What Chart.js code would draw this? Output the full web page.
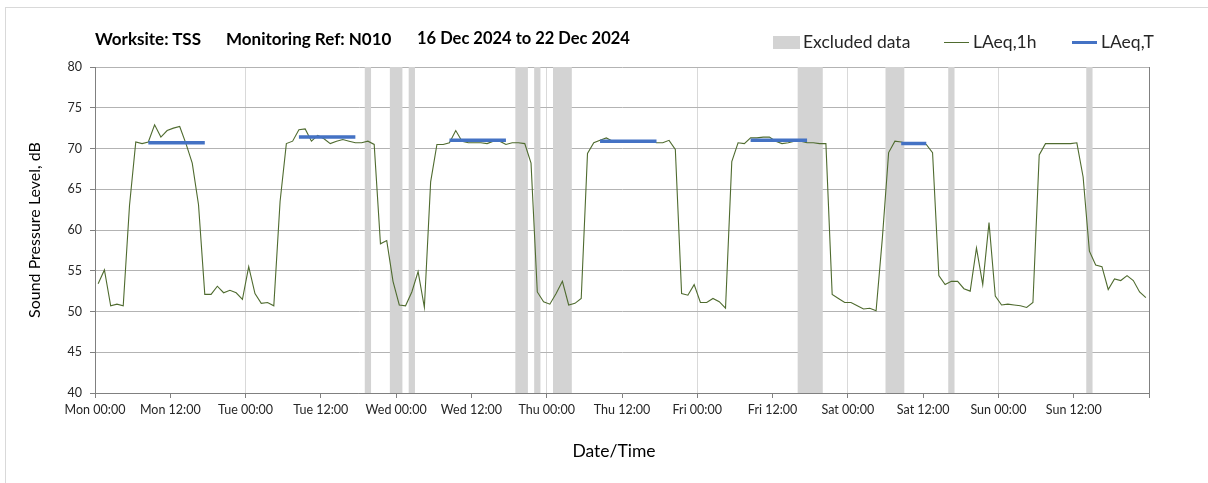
<!DOCTYPE html>
<html>
<head>
<meta charset="utf-8">
<script src="https://cdn.jsdelivr.net/npm/chart.js@4"></script>
<style>
  html, body { margin: 0; padding: 0; background: #ffffff; }
  #wrap { position: relative; width: 1208px; height: 483px; overflow: hidden; font-family: Lato, "Open Sans", sans-serif; }
  #frame { position: absolute; left: 5px; top: 7px; width: 1300px; height: 600px; border: 1px solid #d9d9d9; box-sizing: border-box; }
  #c { position: absolute; left: 0; top: 0; }
  .txt { position: absolute; white-space: nowrap; color: #000; }
  .tt { top: 28px; font-size: 17px; font-weight: bold; }
  #legend { position: absolute; left: 773px; top: 32px; height: 20px; font-size: 17.5px; color: #262626; }
  .lg { position: absolute; top: 0; line-height: 20px; white-space: nowrap; }
  .sw { position: absolute; }
  #xtitle { left: 514px; width: 200px; text-align: center; top: 440px; font-size: 17.5px; }
</style>
</head>
<body>
<div id="wrap">
  <div id="frame"></div>
  <canvas id="c" width="1208" height="483"></canvas>
  <div class="txt tt" style="left:95px;">Worksite: TSS</div>
  <div class="txt tt" style="left:226px;">Monitoring Ref: N010</div>
  <div class="txt tt" style="left:417px; font-size:16.5px;">16 Dec 2024 to 22 Dec 2024</div>
  <div id="legend">
    <div class="sw" style="left:0px; top:4px; width:27px; height:13px; background:#d3d3d3;"></div>
    <div class="lg" style="left:30px;">Excluded data</div>
    <div class="sw" style="left:171px; top:10px; width:25px; height:1px; background:#4f6b2f;"></div>
    <div class="lg" style="left:200px;">LAeq,1h</div>
    <div class="sw" style="left:299px; top:9px; width:25px; height:3px; background:#4472c4;"></div>
    <div class="lg" style="left:328px;">LAeq,T</div>
  </div>
  <div class="txt" id="xtitle">Date/Time</div>
</div>
<script>
// ---- Data ----
const tickLabels = ['Mon 00:00','Mon 12:00','Tue 00:00','Tue 12:00','Wed 00:00','Wed 12:00',
  'Thu 00:00','Thu 12:00','Fri 00:00','Fri 12:00','Sat 00:00','Sat 12:00','Sun 00:00','Sun 12:00'];

// Hourly LAeq,1h values, Mon 00:00 .. Sun 23:00 (168 hours)
const laeq1h = [
  53.4,55.1,50.7,50.9,50.7,63.0,70.8,70.6,70.8,72.9,71.4,72.2,72.5,72.7,70.6,68.2,63.1,52.1,52.1,53.1,52.3,52.6,52.3,51.5,
  55.5,52.2,51.0,51.1,50.7,63.5,70.6,70.9,72.3,72.4,70.9,71.6,71.2,70.6,70.9,71.1,70.9,70.7,70.7,70.9,70.5,58.3,58.7,53.7,
  50.8,50.7,52.4,54.9,50.5,65.9,70.5,70.5,70.7,72.2,70.9,70.7,70.7,70.7,70.6,70.9,70.9,70.5,70.7,70.7,70.6,68.2,52.4,51.2,
  50.9,52.2,53.7,50.8,51.0,51.6,69.4,70.7,71.0,71.3,70.9,70.9,70.9,70.9,70.9,70.9,70.9,70.7,70.7,71.0,69.9,52.2,52.0,53.3,
  51.1,51.1,51.6,51.2,50.4,68.4,70.7,70.6,71.3,71.3,71.4,71.4,70.9,70.6,70.7,70.9,70.9,70.7,70.7,70.6,70.6,52.1,51.6,51.1,
  51.1,50.7,50.3,50.4,50.1,59.0,69.5,70.9,70.8,70.6,70.6,70.6,70.5,69.5,54.4,53.3,53.7,53.7,52.8,52.5,57.8,53.3,60.9,51.9,
  50.8,50.9,50.8,50.7,50.5,51.1,69.2,70.6,70.6,70.6,70.6,70.6,70.7,66.5,57.4,55.7,55.5,52.7,54.0,53.8,54.4,53.8,52.4,51.7
];

// LAeq,T assessment periods (hour from Mon 00:00) and levels
const periodStart = [8, 32, 56, 80, 104, 128];
const periodEnd   = [18, 42, 66, 90, 114, 133];
const laeqT       = [70.7, 71.4, 71.0, 70.9, 71.0, 70.6];

// Excluded data periods (hour from Mon 00:00)
const excludedStart = [43, 47, 50, 67, 70, 73, 112, 126, 136, 158];
const excludedEnd   = [44, 49, 51, 69, 71, 76, 116, 129, 137, 159];

// ---- Build datasets ----
const lineData = laeq1h.map((v, i) => ({ x: i + 0.5, y: v }));
const tData = [];
periodStart.forEach((s, k) => {
  tData.push({ x: s + 0.5, y: laeqT[k] });
  tData.push({ x: periodEnd[k] - 0.5, y: laeqT[k] });
  tData.push({ x: periodEnd[k], y: null });
});

const bandPlugin = {
  id: 'excludedBands',
  beforeDatasetsDraw(chart) {
    const { ctx, chartArea, scales } = chart;
    ctx.save();
    ctx.fillStyle = '#d3d3d3';
    excludedStart.forEach((s, k) => {
      const x0 = scales.x.getPixelForValue(s);
      const x1 = scales.x.getPixelForValue(excludedEnd[k]);
      ctx.fillRect(x0, chartArea.top, x1 - x0, chartArea.bottom - chartArea.top);
    });
    ctx.restore();
  }
};

const tickFont = { family: 'Lato, "Open Sans", sans-serif', size: 12.5 };
const titleFont = { family: 'Lato, "Open Sans", sans-serif', size: 16 };

new Chart(document.getElementById('c'), {
  type: 'line',
  data: {
    datasets: [
      { label: 'LAeq,T', data: tData, borderColor: '#4472c4', borderWidth: 3.5, pointRadius: 0, spanGaps: false, borderCapStyle: 'butt', order: 0 },
      { label: 'LAeq,1h', data: lineData, borderColor: '#4f6b2f', borderWidth: 1.1, pointRadius: 0, tension: 0, order: 1 }
    ]
  },
  options: {
    responsive: false,
    animation: false,
    events: [],
    layout: { padding: { top: 67, right: 59, left: 0, bottom: 0 } },
    plugins: { legend: { display: false }, title: { display: false }, tooltip: { enabled: false } },
    scales: {
      x: {
        type: 'linear', min: 0, max: 168,
        afterFit(scale) { scale.height = 90; },
        afterBuildTicks(scale) {
          const t = [];
          for (let v = 0; v <= 168; v += 12) t.push({ value: v });
          scale.ticks = t;
        },
        ticks: {
          autoSkip: false, maxRotation: 0, minRotation: 0, padding: 4,
          color: '#262626', font: tickFont,
          callback: (v) => tickLabels[v / 12] || ''
        },
        grid: {
          drawTicks: true, tickLength: 5, tickColor: '#808080',
          color: (c) => {
            const v = c.tick ? c.tick.value : 0;
            if (v === 168) return '#808080';
            return v % 24 === 0 ? '#d9d9d9' : 'rgba(0,0,0,0)';
          }
        },
        border: { color: '#808080', width: 1 },
        title: { display: false }
      },
      y: {
        min: 40, max: 80,
        afterFit(scale) { scale.width = 95; },
        ticks: { stepSize: 5, padding: 8, color: '#262626', font: tickFont },
        grid: { color: '#b3b3b3', drawTicks: true, tickLength: 5, tickColor: '#808080' },
        border: { color: '#808080', width: 1 },
        title: { display: true, text: 'Sound Pressure Level, dB', color: '#000', font: titleFont, padding: { top: 25, bottom: 0 } }
      }
    }
  },
  plugins: [bandPlugin]
});
</script>
</body>
</html>
